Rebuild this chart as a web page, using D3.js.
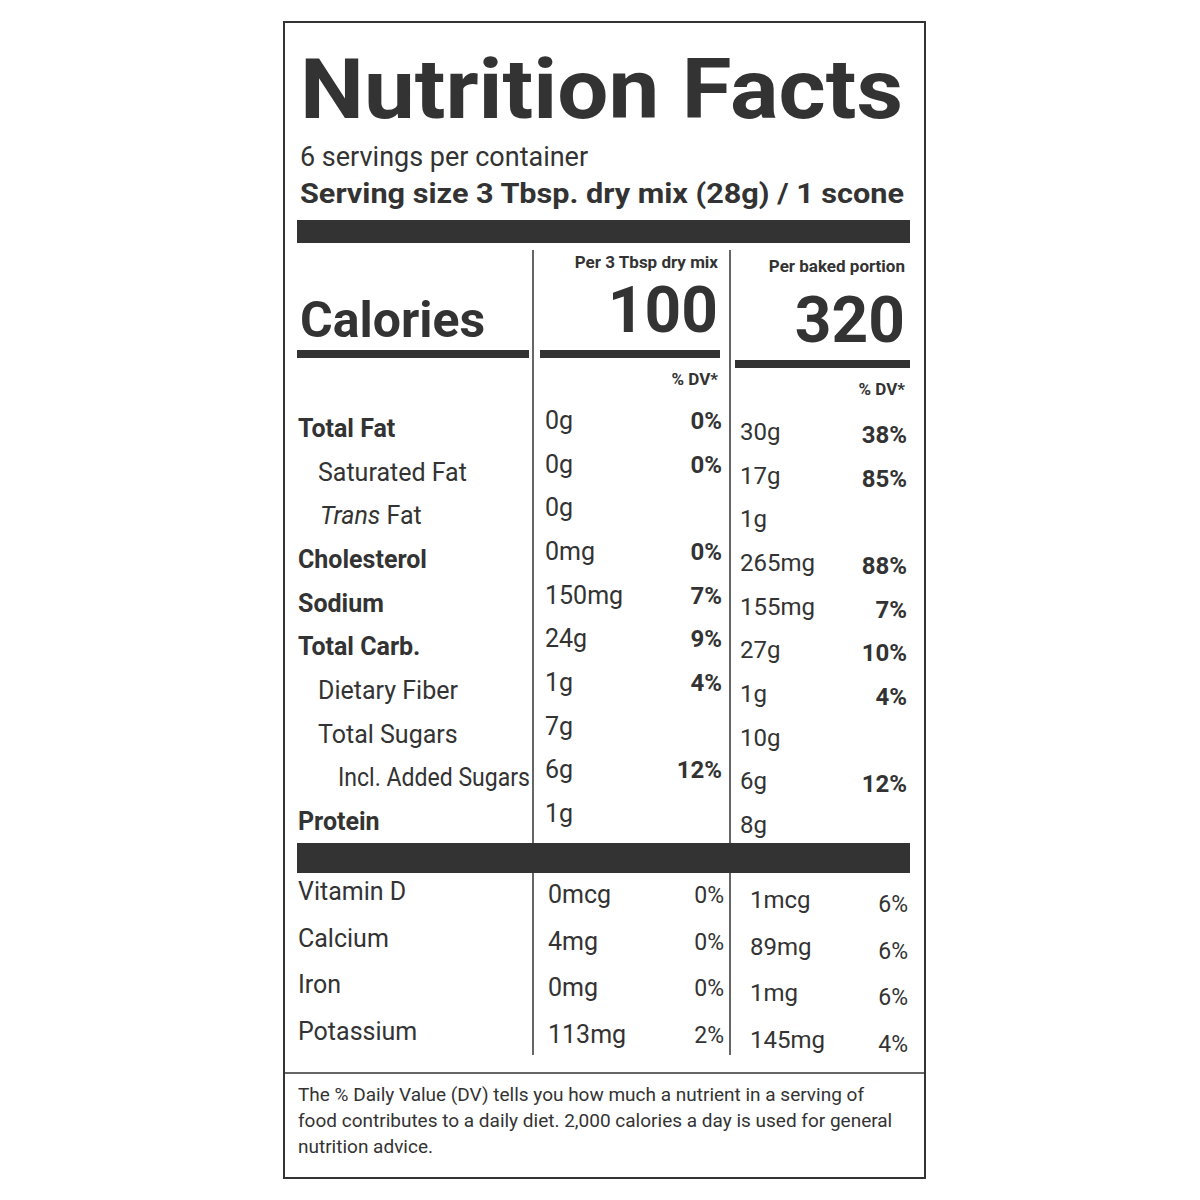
<!DOCTYPE html><html><head><meta charset="utf-8"><script src="https://cdn.jsdelivr.net/npm/d3@7/dist/d3.min.js"></script>
<style>body{margin:0;background:#fff}</style></head><body><svg id="c" width="1200" height="1200"></svg>
<script>
const nutrients=["Total Fat","Saturated Fat","Trans Fat","Cholesterol","Sodium","Total Carb.","Dietary Fiber","Total Sugars","Incl. Added Sugars","Protein"];
const indent=[0,1,1,0,0,0,1,1,2,0];
const bold=[1,0,0,1,1,1,0,0,0,1];
const dryAmt=["0g","0g","0g","0mg","150mg","24g","1g","7g","6g","1g"];
const dryDV=["0%","0%","","0%","7%","9%","4%","","12%",""];
const bakedAmt=["30g","17g","1g","265mg","155mg","27g","1g","10g","6g","8g"];
const bakedDV=["38%","85%","","88%","7%","10%","4%","","12%",""];
const vitamins=["Vitamin D","Calcium","Iron","Potassium"];
const vDryAmt=["0mcg","4mg","0mg","113mg"];
const vDryDV=["0%","0%","0%","2%"];
const vBakedAmt=["1mcg","89mg","1mg","145mg"];
const vBakedDV=["6%","6%","6%","4%"];
const calories=[100,320];
const svg=d3.select("#c");const F="Roboto, 'Liberation Sans', sans-serif";const C="#333";
svg.append("rect").attr("x",284).attr("y",22).attr("width",641).attr("height",1156).attr("fill","none").attr("stroke",C).attr("stroke-width",2);
function t(x,y,s,sz,w,a,style){return svg.append("text").attr("x",x).attr("y",y).text(s).attr("font-family",F).attr("font-size",sz).attr("font-weight",w?"bold":"normal").attr("text-anchor",a||"start").attr("fill",C).attr("font-style",style||"normal");}
function r(x,y,w,h){svg.append("rect").attr("x",x).attr("y",y).attr("width",w).attr("height",h).attr("fill",C);}
t(300,118,"Nutrition Facts",84,1).attr("textLength",603).attr("lengthAdjust","spacingAndGlyphs");
t(300,166,"6 servings per container",27,0);
t(300,203,"Serving size  3 Tbsp. dry mix (28g) / 1 scone",28,1).attr("textLength",604).attr("lengthAdjust","spacingAndGlyphs");
r(297,220,613,23);
t(300,337,"Calories",50,1);
r(297,350,232,8);
t(718,268,"Per 3 Tbsp dry mix",17,1,"end");t(905,272,"Per baked portion",17,1,"end");
t(718,332,calories[0],64,1,"end");t(905,342,calories[1],64,1,"end");
r(540,350,180,8);r(735,360,175,8);
t(718,385,"% DV*",17,1,"end");t(905,395,"% DV*",17,1,"end");
svg.append("line").attr("x1",533).attr("x2",533).attr("y1",250).attr("y2",1055).attr("stroke",C).attr("stroke-width",1.5);
svg.append("line").attr("x1",730).attr("x2",730).attr("y1",250).attr("y2",1055).attr("stroke",C).attr("stroke-width",1.5);
const y=d3.scalePoint().domain(nutrients).range([437,830]);
nutrients.forEach((n,i)=>{const yy=y(n);
 if(n==="Trans Fat"){const tx=t(300+indent[i]*20,yy,"",25,0);tx.append("tspan").attr("font-style","italic").text("Trans");tx.append("tspan").text(" Fat");}
 else{const tx=t(298+indent[i]*20,yy,n,25,bold[i]);if(indent[i]===2)tx.attr("textLength",192).attr("lengthAdjust","spacingAndGlyphs");}
 t(545,yy-8,dryAmt[i],25,0);t(722,yy-8,dryDV[i],24,1,"end");
 t(740,yy+3,bakedAmt[i],24,0);t(907,yy+6,bakedDV[i],24,1,"end");
});
r(297,843,613,30);
const yv=d3.scalePoint().domain(vitamins).range([900,1040]);
vitamins.forEach((v,i)=>{const yy=yv(v);t(298,yy,v,25,0);t(548,yy+3,vDryAmt[i],25,0);t(730-6,yy+3,vDryDV[i],23,0,"end");t(750,yy+8,vBakedAmt[i],24,0);t(908,yy+12,vBakedDV[i],23,0,"end");});
svg.append("line").attr("x1",284).attr("x2",925).attr("y1",1073).attr("y2",1073).attr("stroke",C).attr("stroke-width",1.5);
["The % Daily Value (DV) tells you how much a nutrient in a serving of","food contributes to a daily diet. 2,000 calories a day is used for general","nutrition advice."].forEach((s,i)=>t(298,1101+i*26,s,19,0));
</script></body></html>
